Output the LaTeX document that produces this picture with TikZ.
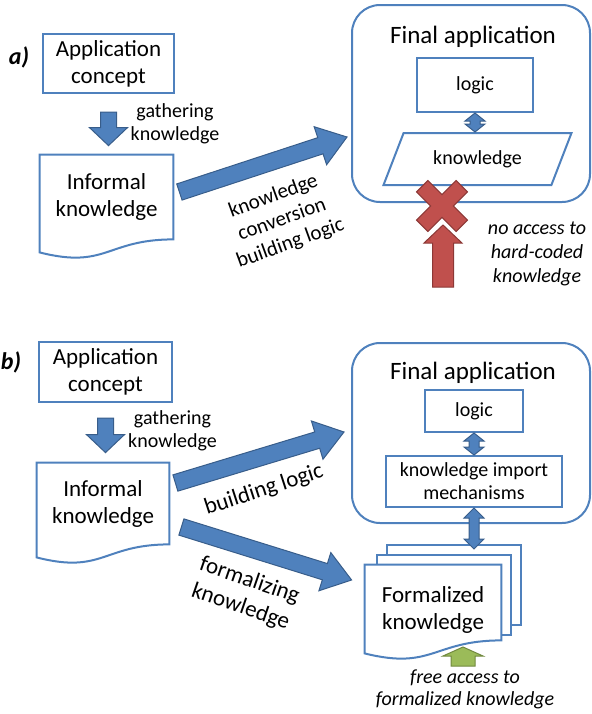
\documentclass[tikz,border=0pt]{standalone}
\usepackage{fontspec}
\setmainfont{Carlito}
\usetikzlibrary{calc,positioning,shapes.geometric}

\definecolor{boxblue}{HTML}{4F81BD}
\definecolor{arrowfill}{HTML}{4F81BD}
\definecolor{arrowline}{HTML}{385D8A}
\definecolor{crossred}{HTML}{C0504D}
\definecolor{crossline}{HTML}{8C3836}
\definecolor{accgreen}{HTML}{9BBB59}
\definecolor{accgreenline}{HTML}{71893F}

% block arrow: style, from, to, shaft half width, head half width, head length
\newcommand{\blockarrow}[6]{%
  \coordinate (ba-s) at #2;
  \coordinate (ba-t) at #3;
  \coordinate (ba-h) at ($(ba-t)!#6!(ba-s)$);
  \filldraw[#1] ($(ba-s)!#4!90:(ba-t)$) -- ($(ba-h)!#4!90:(ba-t)$)
    -- ($(ba-h)!#5!90:(ba-t)$) -- (ba-t) -- ($(ba-h)!#5!-90:(ba-t)$)
    -- ($(ba-h)!#4!-90:(ba-t)$) -- ($(ba-s)!#4!-90:(ba-t)$) -- cycle;
}
% same with a head on both ends
\newcommand{\dblarrow}[6]{%
  \coordinate (da-s) at #2;
  \coordinate (da-t) at #3;
  \coordinate (da-h1) at ($(da-s)!#6!(da-t)$);
  \coordinate (da-h2) at ($(da-t)!#6!(da-s)$);
  \filldraw[#1] (da-s) -- ($(da-h1)!#5!90:(da-t)$) -- ($(da-h1)!#4!90:(da-t)$)
    -- ($(da-h2)!#4!90:(da-t)$) -- ($(da-h2)!#5!90:(da-t)$) -- (da-t)
    -- ($(da-h2)!#5!-90:(da-t)$) -- ($(da-h2)!#4!-90:(da-t)$)
    -- ($(da-h1)!#4!-90:(da-t)$) -- ($(da-h1)!#5!-90:(da-t)$) -- cycle;
}
% wavy bottom of a document node
\newcommand{\docoutline}[2][]{%
  \draw[docline,#1] (#2.north west) -- (#2.north east) -- (#2.south east)
    .. controls (#2.south) and ($(#2.south)+(0,30)$) .. ($(#2.south west)+(0,13)$)
    -- cycle;
}

\begin{document}
\begin{tikzpicture}[
   x=0.5pt, y=-0.5pt,
   box/.style={draw=boxblue, line width=1pt, fill=white, align=center, inner sep=2pt},
   docline/.style={draw=boxblue, line width=1pt},
   appframe/.style={draw=boxblue, line width=1pt, rounded corners=14pt},
   maintext/.style={font=\fontsize{11.5}{13.5}\selectfont, align=center},
   smalltext/.style={font=\fontsize{10}{11.5}\selectfont, align=center},
   titletext/.style={font=\fontsize{12.5}{15}\selectfont},
   notetext/.style={font=\fontsize{10}{12}\selectfont\itshape, align=center},
   tagtext/.style={font=\fontsize{12}{14}\selectfont\bfseries\itshape},
   bluearrow/.style={fill=arrowfill, draw=arrowline, line width=0.5pt},
   redarrow/.style={fill=crossred, draw=crossline, line width=0.5pt},
   greenarrow/.style={fill=accgreen, draw=accgreenline, line width=0.5pt}
]
\useasboundingbox (0,0) rectangle (591,714);

%% a) hard-coded knowledge
\node[tagtext] (tagA) at (19,57) {a)};
\node[box, maintext, minimum width=65.5pt, minimum height=29.5pt] (conceptA)
   at (108.5,63.5) {Application\\concept};
\node[maintext, minimum width=66.5pt, minimum height=42pt] (informalA)
   at (106.5,197) {Informal\\knowledge};
\docoutline{informalA}
\node[smalltext] (gatherA) at (175,124) {gathering\\knowledge};
\blockarrow{bluearrow}{($(conceptA.south)+(0,18)$)}
   {($(conceptA.south |- informalA.north)+(0,-9)$)}{4pt}{9.5pt}{9pt}

\node[appframe, minimum width=119pt, minimum height=98.5pt] (finalA) at (471,103.5) {};
\node[titletext] (titleA) at (473,37) {Final application};
\node[box, smalltext, minimum width=58pt, minimum height=27pt] (logicA) at (475,85) {logic};
\node[box, smalltext, trapezium, trapezium left angle=62.6, trapezium right angle=117.4,
   trapezium stretches=true, minimum width=94.5pt, minimum height=26pt] (knowA)
   at (477.5,159) {knowledge};
\dblarrow{bluearrow}{(logicA.south)}{(logicA.south |- knowA.north)}{2.5pt}{5pt}{4pt}

\blockarrow{bluearrow}{($(informalA.east)+(6,-5)$)}{($(finalA.west)+(-4,33.5)$)}
   {4.25pt}{10pt}{14pt}
\node[font=\fontsize{10.5}{12.5}\selectfont, align=center, rotate=20] (convA)
   at (282,220) {knowledge\\conversion\\building logic};

% blocked access
\coordinate (xmark) at (442,206);
\filldraw[redarrow, shift={(xmark)}, rotate=45]
   (8,28) -- (8,8) -- (28,8) -- (28,-8) -- (8,-8) -- (8,-28) -- (-8,-28)
   -- (-8,-8) -- (-28,-8) -- (-28,8) -- (-8,8) -- (-8,28) -- cycle;
\coordinate (ra-base) at (443,287);
\coordinate (ra-tip) at (443,225);
\blockarrow{redarrow}{(ra-base)}{(ra-tip)}{5.25pt}{9.5pt}{9pt}
\node[notetext] (noaccess) at (537,254) {no access to\\hard-coded\\knowledge};

%% b) formalized knowledge
\node[tagtext] (tagB) at (11,362) {b)};
\node[box, maintext, minimum width=66.5pt, minimum height=30pt] (conceptB)
   at (105.5,372) {Application\\concept};
\node[maintext, minimum width=66pt, minimum height=40.5pt] (informalB)
   at (103,503.5) {Informal\\knowledge};
\docoutline{informalB}
\node[smalltext] (gatherB) at (172.5,431) {gathering\\knowledge};
\blockarrow{bluearrow}{($(conceptB.south)+(0,15)$)}
   {($(conceptB.south |- informalB.north)+(0,-10)$)}{4pt}{9.5pt}{9pt}

\node[appframe, minimum width=119pt, minimum height=90pt] (finalB) at (471,433) {};
\node[titletext] (titleB) at (473,373) {Final application};
\node[box, smalltext, minimum width=49pt, minimum height=21pt] (logicB) at (474,411) {logic};
\node[box, smalltext, minimum width=88pt, minimum height=25.5pt] (kimB)
   at (474,481.5) {knowledge import\\mechanisms};
\dblarrow{bluearrow}{(logicB.south)}{(kimB.north)}{2.5pt}{5pt}{4pt}

% stack of formalized documents
\node[box, minimum width=67pt, minimum height=40pt] (formalBack) at (454,585) {};
\node[box, minimum width=67pt, minimum height=40pt] (formalMid) at (444,595) {};
\node[minimum width=68pt, minimum height=37.5pt] (formalF) at (433,602.5) {};
\docoutline[fill=white]{formalF}
\node[maintext] (formalText) at ($(formalF.center)+(0,7.5)$) {Formalized\\knowledge};
\dblarrow{bluearrow}{(kimB.south)}{($(kimB.south |- formalBack.north)+(0,5)$)}
   {2.5pt}{5pt}{5pt}

\blockarrow{bluearrow}{($(informalB.east)+(6,-20.5)$)}{($(finalB.west)+(-7,-1)$)}
   {4.25pt}{10pt}{14pt}
\node[maintext, rotate=18] (buildB) at (264,490) {building logic};
\blockarrow{bluearrow}{($(informalB.east)+(12,23.5)$)}{($(formalF.west)+(-13,-22.5)$)}
   {4.25pt}{10pt}{14pt}
\node[maintext, font=\fontsize{11.5}{14}\selectfont, rotate=-19] (formalizeB)
   at (245,594) {formalizing\\knowledge};

% free access
\coordinate (ga-base) at (463,666);
\coordinate (ga-tip) at (463,647);
\blockarrow{greenarrow}{(ga-base)}{(ga-tip)}{6pt}{10pt}{4.5pt}
\node[notetext, font=\fontsize{10}{11}\selectfont\itshape] (freeaccess) at (465,689)
   {free access to\\formalized knowledge};
\end{tikzpicture}
\end{document}
